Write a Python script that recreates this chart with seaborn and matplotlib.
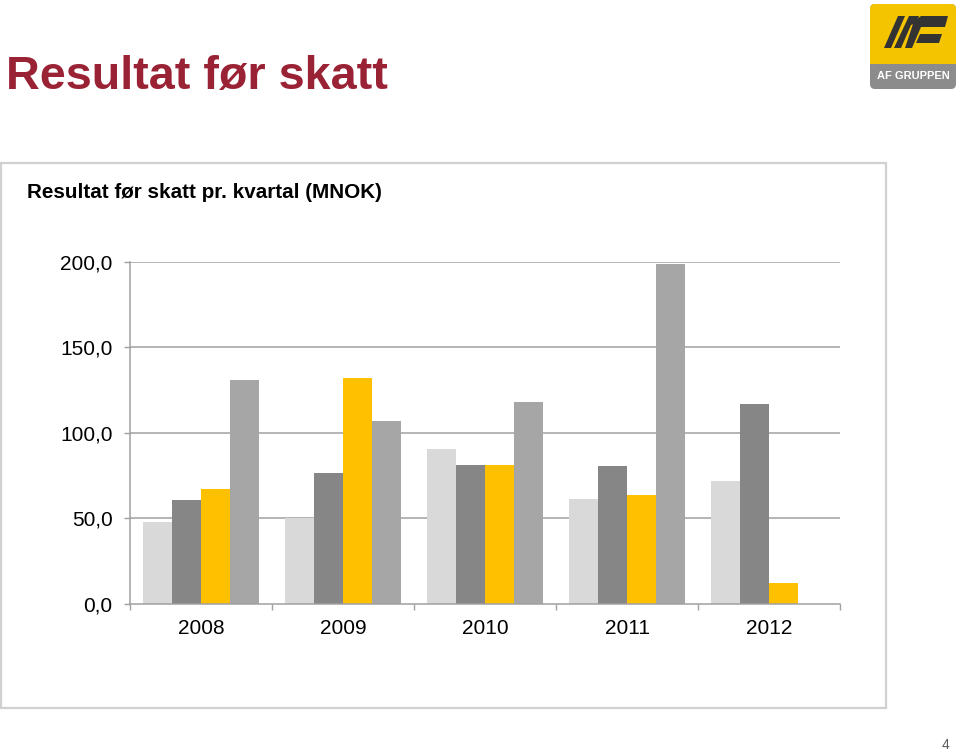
import matplotlib
matplotlib.use("Agg")
import matplotlib.pyplot as plt
from matplotlib.patches import Rectangle, FancyBboxPatch, Polygon
from matplotlib.ticker import FixedLocator
import numpy as np
import pandas as pd
import seaborn as sns

years = ["2008", "2009", "2010", "2011", "2012"]
quarters = ["Q1", "Q2", "Q3", "Q4"]
q1 = [47.8, 50.0, 90.7, 61.1, 71.6]
q2 = [60.9, 76.7, 81.4, 80.4, 117.1]
q3 = [66.9, 131.9, 81.0, 63.8, 11.9]
q4 = [131.1, 106.7, 117.9, 198.7, np.nan]
colors = ["#D9D9D9", "#868686", "#FFC000", "#A6A6A6"]
ytick_vals = [0, 50, 100, 150, 200]
ytick_labels = ["0,0", "50,0", "100,0", "150,0", "200,0"]

rows = []
for q, vals in zip(quarters, [q1, q2, q3, q4]):
    for y, v in zip(years, vals):
        rows.append({"year": y, "quarter": q, "value": v})
df = pd.DataFrame(rows)

sns.set_theme(style="white")
plt.rcParams["font.family"] = ["Liberation Sans", "DejaVu Sans"]

fig = plt.figure(figsize=(9.6, 7.52), dpi=100)
W, H = 960, 752

def fx(px):
    return px / W

def fy(py):
    return 1 - py / H

# Frame around chart
fig.patches.append(Rectangle((fx(1), fy(708)), fx(886) - fx(1), fy(163) - fy(708),
                             transform=fig.transFigure, fill=False,
                             edgecolor="#D0D0D0", linewidth=1.6, zorder=0))

ax = fig.add_axes([fx(130), fy(603.5), fx(840) - fx(130), fy(262) - fy(603.5)])
sns.barplot(data=df, x="year", y="value", hue="quarter", order=years,
            hue_order=quarters, palette=colors, width=0.817, gap=0,
            saturation=1, edgecolor="none", linewidth=0, legend=False, ax=ax)

ax.set_ylim(0, 200)
ax.set_xlim(-0.5, len(years) - 0.5)
ax.set_yticks(ytick_vals)
ax.set_yticklabels(ytick_labels)
ax.set_xlabel("")
ax.set_ylabel("")
for ytv in ytick_vals[1:]:
    ax.axhline(ytv, color="#A0A0A0", linewidth=1.1, zorder=0.5)
ax.set_axisbelow(True)
for s in ["top", "right"]:
    ax.spines[s].set_visible(False)
for s in ["left", "bottom"]:
    ax.spines[s].set_color("#A0A0A0")
    ax.spines[s].set_linewidth(1.1)
ax.tick_params(axis="y", which="major", direction="out", length=4, width=1,
               color="#A0A0A0", pad=8.5, labelsize=15, labelcolor="#000000", left=True)
ax.tick_params(axis="x", which="major", length=0, pad=11.5, labelsize=15,
               labelcolor="#000000")
ax.xaxis.set_minor_locator(FixedLocator(np.arange(-0.5, len(years), 1.0)))
ax.tick_params(axis="x", which="minor", direction="out", length=4, width=1,
               color="#A0A0A0", bottom=True)

# Titles
fig.text(fx(6), fy(77), "Resultat før skatt", fontsize=33.7, fontweight="bold",
         color="#9A2235", va="center", ha="left")
fig.text(fx(27), fy(192), "Resultat før skatt pr. kvartal (MNOK)", fontsize=14.9,
         fontweight="bold", color="#000000", va="center", ha="left")
fig.text(fx(946), fy(745), "4", fontsize=10, color="#595959", ha="center", va="center")

# Logo
lax = fig.add_axes([fx(869), fy(90), fx(957) - fx(869), fy(3) - fy(90)])
lax.set_xlim(0, 88)
lax.set_ylim(87, 0)
lax.axis("off")
lax.add_patch(FancyBboxPatch((1, 1), 86, 85, boxstyle="round,pad=0,rounding_size=5",
                             facecolor="#8C8C8C", edgecolor="none"))
lax.add_patch(FancyBboxPatch((1, 1), 86, 60, boxstyle="round,pad=0,rounding_size=5",
                             facecolor="#F5C400", edgecolor="none"))
lax.add_patch(Rectangle((1, 52), 86, 9, facecolor="#F5C400", edgecolor="none"))
dark = "#333333"
lax.add_patch(Polygon([(15, 45), (22, 45), (36, 13), (29, 13)], closed=True,
                      facecolor=dark, edgecolor="none"))
lax.add_patch(Polygon([(25, 45), (32, 45), (42, 22), (47, 20), (50, 13), (40, 13)],
                      closed=True, facecolor=dark, edgecolor="none"))
lax.add_patch(Polygon([(36, 45), (43, 45), (52, 24), (76, 24), (79, 13), (52, 13),
                       (45, 18)], closed=True, facecolor=dark, edgecolor="none"))
lax.add_patch(Polygon([(47, 40), (70, 40), (73, 31), (51, 31)], closed=True,
                      facecolor=dark, edgecolor="none"))
lax.text(44, 73, "AF GRUPPEN", fontsize=8, fontweight="bold", color="white",
         ha="center", va="center", family=["Liberation Sans Narrow", "Liberation Sans"])

fig.savefig("out.png", dpi=100)
